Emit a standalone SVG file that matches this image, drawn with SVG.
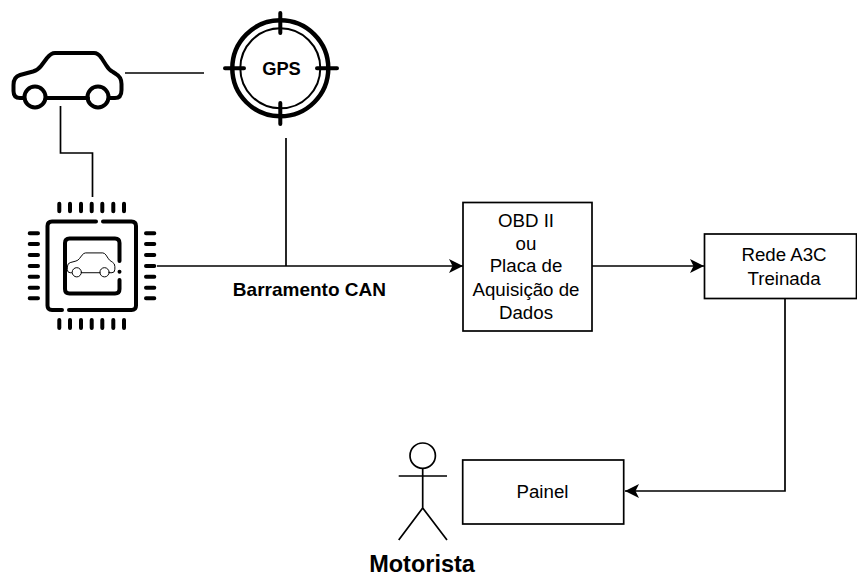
<svg xmlns="http://www.w3.org/2000/svg" width="857" height="576" viewBox="0 0 857 576">
<style>
.t{font-family:"Liberation Sans",Arial,sans-serif;fill:#000;text-anchor:middle}
.n{font-size:18.700px}
.b{font-weight:bold}
.box{fill:#fff;stroke:#000;stroke-width:1.700}
.c{fill:none;stroke:#000;stroke-width:1.700}
.k{fill:none;stroke:#000;stroke-linecap:round;stroke-linejoin:round}
</style>
<defs>
<marker id="arrow" markerUnits="userSpaceOnUse" markerWidth="16" markerHeight="16" refX="15" refY="8" orient="auto">
<path d="M1,1 L15,8 L1,15 L4.500,8 Z" fill="#000"/>
</marker>
<g id="car">
<path d="M23,98 H20 Q13.500,98 13.500,91 V85 Q13.500,77 20,75 L33,71.500 Q38,70 41,66 L47,58 Q51,53 55,53 H94 Q98,53 101.500,58 L106,65 Q109,70 113,72 L116,74 Q121.500,77 121.500,84 V90 Q121.500,98 115,98 H109 M46,98 H88"/>
<circle cx="35" cy="97" r="10.500"/>
<circle cx="98" cy="97" r="10.500"/>
</g>
</defs>
<g id="connectors">
<path class="c" d="M125,73 H204"/>
<path class="c" d="M60.500,106 V153 H92.500 V197"/>
<path class="c" d="M286,138 V266"/>
<path class="c" d="M157,266 H463" marker-end="url(#arrow)"/>
<path class="c" d="M592,266 H704" marker-end="url(#arrow)"/>
<path class="c" d="M785,298 V491 H625" marker-end="url(#arrow)"/>
</g>
<g id="car-node"><use href="#car" class="k" stroke-width="4"/></g>
<g id="gps" class="k">
<circle cx="280.300" cy="68.300" r="48" stroke-width="4.500"/>
<circle cx="280.300" cy="68.300" r="40" stroke-width="2"/>
<path stroke-width="4" d="M280.300,13 V33 M280.300,103 V124 M225,68.300 H244 M317,68.300 H337"/>
<text class="t b" style="stroke:none" x="281.500" y="75" font-size="18.300">GPS</text>
</g>
<g id="chip" class="k">
<path stroke-width="4" d="M96,221.500 H52 Q47.500,221.500 47.500,226 V305.500 Q47.500,310 52,310 H62 M69,310 H131.500 Q136,310 136,305.500 V226 Q136,221.500 131.500,221.500 H103"/>
<path stroke-width="4" d="M119.500,261 V243 Q119.500,238.500 115,238.500 H69.500 Q65,238.500 65,243 V289 Q65,293.500 69.500,293.500 H115 Q119.500,293.500 119.500,289 V280 M119.500,271.700 V271.800"/>
<path stroke-width="4" d="M59.300,203.700 V211.300 M70,203.700 V211.300 M81,203.700 V211.300 M91.700,203.700 V211.300 M102.300,203.700 V211.300 M113.300,203.700 V211.300 M124,203.700 V211.300 M59.300,320 V328 M70,320 V328 M81,320 V328 M91.700,320 V328 M102.300,320 V328 M113.300,320 V328 M124,320 V328 M29.700,233.300 H38 M29.700,244 H38 M29.700,255 H38 M29.700,266 H38 M29.700,276.700 H38 M29.700,287.700 H38 M29.700,298.300 H38 M146,233.300 H154.300 M146,244 H154.300 M146,255 H154.300 M146,266 H154.300 M146,276.700 H154.300 M146,287.700 H154.300 M146,298.300 H154.300"/>
<use href="#car" stroke-width="2.200" transform="translate(61.400 229.600) scale(.44)"/>
</g>
<g id="obd">
<rect class="box" x="463" y="202.500" width="129" height="128.500"/>
<text class="t n"><tspan x="526" y="227">OBD II</tspan><tspan x="526" y="250">ou</tspan><tspan x="526" y="272">Placa de</tspan><tspan x="526" y="296">Aquisição de</tspan><tspan x="526" y="319">Dados</tspan></text>
</g>
<g id="rede">
<rect class="box" x="704.500" y="234" width="152" height="64.500"/>
<text class="t n"><tspan x="784" y="261">Rede A3C</tspan><tspan x="784" y="285">Treinada</tspan></text>
</g>
<g id="painel">
<rect class="box" x="462.700" y="460" width="161" height="64"/>
<text class="t n" x="542.500" y="498">Painel</text>
</g>
<g id="motorista">
<circle class="c" cx="422.700" cy="455.700" r="12.700"/>
<path class="c" d="M422.700,468.500 V508 M398.700,476 H447 M398.700,540 L422.700,508 L447,540"/>
<text class="t b" x="422" y="571.500" font-size="23.500">Motorista</text>
</g>
<text id="can" class="t b" x="309.400" y="296" font-size="19">Barramento CAN</text>
</svg>
